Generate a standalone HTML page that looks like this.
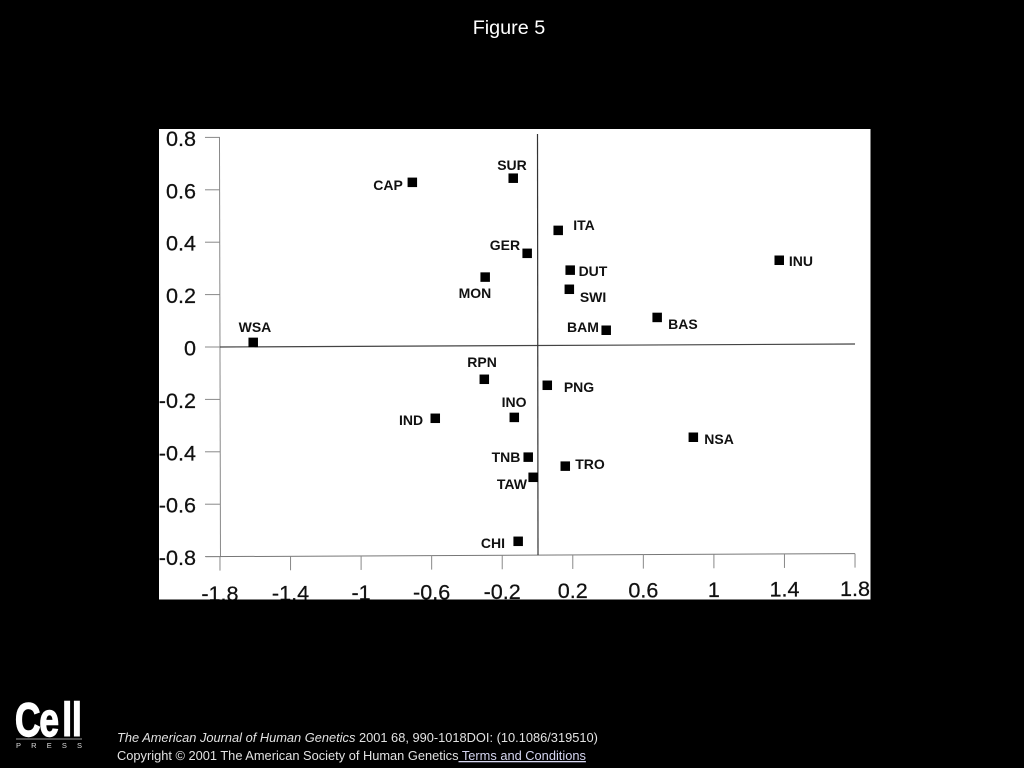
<!DOCTYPE html>
<html lang="en">
<head>
<meta charset="utf-8">
<title>Figure 5</title>
<style>
html,body{margin:0;padding:0;background:#000;width:1024px;height:768px;overflow:hidden}
svg{display:block;font-family:"Liberation Sans",Arial,sans-serif}
</style>
</head>
<body>
<svg id="figure" xmlns="http://www.w3.org/2000/svg" width="1024" height="768" viewBox="0 0 1024 768">
  <defs><clipPath id="panel-clip"><rect x="159" y="129" width="711.5" height="470.5"/></clipPath></defs>
  <rect x="0" y="0" width="1024" height="768" fill="#000"/>
  <text x="509" y="34" fill="#fff" font-size="19.8" text-anchor="middle">Figure 5</text>
  <rect x="159" y="129" width="711.5" height="470.5" fill="#fff"/>
  <g id="chart" clip-path="url(#panel-clip)"></g>

  <g>
    <text x="20 52.5 83 96" y="736" transform="scale(0.75,1)" fill="#fff" font-size="47" font-weight="bold" stroke="#fff" stroke-width="1.4">Cell</text>
    <rect x="16" y="738.5" width="66" height="1" fill="#999"/>
    <text x="16" y="748" fill="#ddd" font-size="7.5" textLength="66" lengthAdjust="spacing">PRESS</text>
  </g>

  <text x="117" y="742" fill="#e2e2e2" font-size="12.84"><tspan font-style="italic">The American Journal of Human Genetics</tspan> 2001 68, 990-1018DOI: (10.1086/319510)</text>
  <text x="117" y="760" fill="#e2e2e2" font-size="12.84">Copyright © 2001 The American Society of Human Genetics<tspan fill="#d5d5f0" text-decoration="underline" style="cursor:pointer"> Terms and Conditions</tspan></text>
</svg>
<script>
const categories = ["CAP","SUR","ITA","GER","DUT","INU","MON","SWI","BAS","BAM","WSA","RPN","PNG","INO","IND","NSA","TNB","TRO","TAW","CHI"];
const xValues = [-0.711,-0.139,0.116,-0.06,0.184,1.369,-0.298,0.179,0.677,0.388,-1.613,-0.303,0.054,-0.133,-0.581,0.882,-0.054,0.156,-0.026,-0.111];
const yValues = [0.626,0.640,0.440,0.353,0.288,0.322,0.263,0.215,0.106,0.058,0.018,-0.127,-0.151,-0.273,-0.275,-0.352,-0.425,-0.460,-0.502,-0.746];
const xTicks = [-1.8,-1.4,-1,-0.6,-0.2,0.2,0.6,1,1.4,1.8];
const xTickLabels = ["-1.8","-1.4","-1","-0.6","-0.2","0.2","0.6","1","1.4","1.8"];
const yTicks = [0.8,0.6,0.4,0.2,0,-0.2,-0.4,-0.6,-0.8];
const yTickLabels = ["0.8","0.6","0.4","0.2","0","-0.2","-0.4","-0.6","-0.8"];

const labelShift = {CAP:[-24,3],SUR:[-1,-13],ITA:[26,-5],GER:[-22,-8],DUT:[23,1],INU:[22,1],MON:[-10,16],SWI:[24,8],BAS:[26,7],BAM:[-23,-3],WSA:[2,-15],RPN:[-2,-17],PNG:[32,2],INO:[0,-15],IND:[-24,2],NSA:[26,2],TNB:[-22,0],TRO:[25,-2],TAW:[-21,7],CHI:[-25,2]};

const NS = "http://www.w3.org/2000/svg";
const chart = document.getElementById("chart");
function sx(v){ return 537.5 + v * 176.4; }
function sy(v){ return 347 - v * 262; }
function tilt(px){ return -(px - 220) * 0.0047; }
function make(tag, attrs){
  const el = document.createElementNS(NS, tag);
  for (const k in attrs) el.setAttribute(k, attrs[k]);
  chart.appendChild(el);
  return el;
}
const xMin = sx(xTicks[0]), xMax = sx(xTicks[xTicks.length-1]);
const yTop = sy(yTicks[0]), yBottom = sy(yTicks[yTicks.length-1]);

const yAxis = make("line",{x1:xMin-0.5,y1:yTop,x2:xMin+0.5,y2:yBottom,stroke:"#888","stroke-width":1});



const xAxis = make("line",{x1:xMin-14,y1:yBottom+tilt(xMin-14),x2:xMax,y2:yBottom+tilt(xMax),stroke:"#777","stroke-width":1});



const zeroH = make("line",{x1:xMin,y1:sy(0)+tilt(xMin),x2:xMax,y2:sy(0)+tilt(xMax),stroke:"#444","stroke-width":1.2});



const zeroV = make("line",{x1:sx(0),y1:134,x2:sx(0)+0.5,y2:yBottom+tilt(sx(0)),stroke:"#333","stroke-width":1.2});



yTicks.forEach(function(v,i){
  const t = make("line",{x1:xMin-15,y1:sy(v),x2:xMin,y2:sy(v),stroke:"#888","stroke-width":1});
  
  
  const l = make("text",{x:196,y:sy(v)+8.5,"font-size":21.6,"text-anchor":"end",fill:"#111",stroke:"#111","stroke-width":0.25});
  l.textContent = yTickLabels[i];
  
  
});

xTicks.forEach(function(v,i){
  const px = sx(v);
  const t = make("line",{x1:px,y1:yBottom+tilt(px),x2:px,y2:yBottom+tilt(px)+14,stroke:"#888","stroke-width":1});
  
  
  const l = make("text",{x:px,y:601-(px-220)*0.0079,"font-size":21.6,"text-anchor":"middle",fill:"#111",stroke:"#111","stroke-width":0.25});
  l.textContent = xTickLabels[i];
  
  
});

categories.forEach(function(name,i){
  const px = sx(xValues[i]);
  const py = sy(yValues[i]) + tilt(px);
  const m = make("rect",{x:px-4.5,y:py-4.5,width:9.5,height:9.5,fill:"#000"});
  
  
  const shift = labelShift[name];
  const l = make("text",{x:px+shift[0],y:py+shift[1]+5,"font-size":14,"font-weight":"bold","text-anchor":"middle",fill:"#111"});
  l.textContent = name;
  
  
});
</script>
</body>
</html>
